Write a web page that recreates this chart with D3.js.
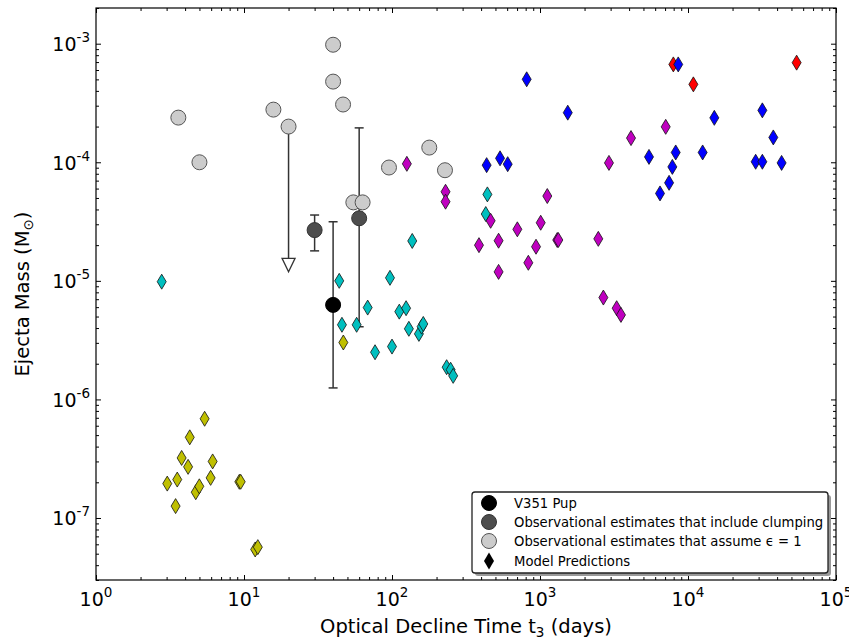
<!DOCTYPE html>
<html>
<head>
<meta charset="utf-8">
<script src="https://cdn.jsdelivr.net/npm/d3@7"></script>
<style>
  body { margin: 0; background: #fff; }
  svg { display: block; }
  text { font-family: "DejaVu Sans", "Liberation Sans", sans-serif; fill: #000; }
</style>
</head>
<body>
<svg id="chart" width="849" height="642"></svg>
<script>
// Nova ejecta mass against optical decline time t3.
// Each point is [t3 (days), ejecta mass (solar masses)].

// Model predictions, grouped by colour
const yellowModels = [
  [3.03, 1.95e-7], [3.54, 2.11e-7], [3.45, 1.26e-7], [3.79, 3.21e-7],
  [4.19, 2.70e-7], [4.30, 4.79e-7], [4.72, 1.65e-7], [4.99, 1.85e-7],
  [5.42, 6.87e-7], [5.95, 2.18e-7], [6.14, 3.00e-7], [9.3, 2.02e-7],
  [9.5, 2.02e-7], [11.9, 5.43e-8], [12.4, 5.68e-8], [46.9, 3.02e-6]
];
const cyanModels = [
  [2.78, 9.84e-6], [44, 1.0e-5], [45.9, 4.26e-6], [57.7, 4.26e-6],
  [68.5, 5.95e-6], [76.8, 2.5e-6], [96.9, 1.06e-5], [100, 2.79e-6],
  [112, 5.5e-6], [124.5, 5.88e-6], [130, 3.94e-6], [137, 2.17e-5],
  [152, 3.57e-6], [158.6, 4.11e-6], [162.7, 4.33e-6], [234, 1.87e-6],
  [249, 1.78e-6], [259, 1.58e-6], [441, 5.36e-5], [430, 3.66e-5]
];
const magentaModels = [
  [126, 9.7e-5], [230, 5.64e-5], [230, 4.65e-5], [387, 2.0e-5],
  [464, 3.21e-5], [525, 2.18e-5], [525, 1.19e-5], [703, 2.72e-5],
  [834, 1.42e-5], [940, 1.94e-5], [1011, 3.09e-5], [1120, 5.19e-5],
  [1308, 2.21e-5], [1330, 2.21e-5], [2477, 2.26e-5], [2924, 9.88e-5],
  [4120, 1.60e-4], [2680, 7.23e-6], [3296, 5.88e-6], [3524, 5.16e-6],
  [7070, 1.99e-4]
];
const redModels = [
  [7960, 6.69e-4], [10870, 4.54e-4], [54200, 6.92e-4]
];
const blueModels = [
  [436, 9.46e-5], [537, 1.08e-4], [605, 9.64e-5], [813, 5.01e-4],
  [1540, 2.62e-4], [5450, 1.11e-4], [6470, 5.46e-5], [7450, 6.71e-5],
  [7840, 9.14e-5], [8260, 1.21e-4], [8590, 6.69e-4], [12560, 1.21e-4],
  [15060, 2.37e-4], [28650, 1.01e-4], [31800, 1.01e-4], [31800, 2.74e-4],
  [37700, 1.62e-4], [42900, 9.88e-5]
];

// Observational estimates assuming a filling factor of 1
const unityFillingObs = [
  [3.6, 2.38e-4], [5, 1.0e-4], [15.8, 2.78e-4], [20, 2.0e-4],
  [40, 9.8e-4], [40, 4.79e-4], [46.7, 3.07e-4], [54.8, 4.59e-5],
  [63.3, 4.59e-5], [95.4, 9.03e-5], [178.6, 1.33e-4], [228, 8.57e-5]
];
// Observational estimates that include clumping: [t3, mass, low, high]
const clumpingObs = [
  [30, 2.68e-5, 1.79e-5, 3.59e-5],
  [60, 3.37e-5, 4.1e-6, 1.95e-4]
];
// V351 Pup: [t3, mass, low, high]
const v351Pup = [[40, 6.27e-6, 1.25e-6, 3.15e-5]];
// Upper limit drawn as a downward arrow: [t3, from, to]
const upperLimits = [[20, 2.0e-4, 1.55e-5]];

// Axis ticks
const xMajorTicks = [1, 10, 100, 1e3, 1e4, 1e5];
const xTickExponents = ["0", "1", "2", "3", "4", "5"];
const yMajorTicks = [1e-7, 1e-6, 1e-5, 1e-4, 1e-3];
const yTickExponents = ["-7", "-6", "-5", "-4", "-3"];

const legendLabels = [
  "V351 Pup",
  "Observational estimates that include clumping",
  "Observational estimates that assume \u03F5 = 1",
  "Model Predictions"
];

const svg = d3.select("#chart");
const pLeft = 96, pRight = 836, pTop = 8, pBottom = 580;

const x = d3.scaleLog().domain([1, 1e5]).range([pLeft, pRight]);
const y = d3.scaleLog().domain([3e-8, 2e-3]).range([pBottom, pTop]);

// Minor ticks: 2..9 within each decade, clipped to the domain
function minorTicks(scale) {
  const [a, b] = scale.domain();
  const out = [];
  for (let e = Math.floor(Math.log10(a)); e <= Math.ceil(Math.log10(b)); e++) {
    for (let k = 2; k <= 9; k++) {
      const v = k * Math.pow(10, e);
      if (v >= a * 0.9999 && v <= b * 1.0001) out.push(v);
    }
  }
  return out;
}
const xMinor = minorTicks(x);
const yMinor = minorTicks(y);

const MAJ = 5, MIN = 3;
const axesG = svg.append("g");

function drawAxis(gen, transform) {
  const g = axesG.append("g").attr("transform", transform).call(gen);
  g.select(".domain").remove();
  g.selectAll("line").attr("stroke", "#000").attr("stroke-width", 1);
  g.selectAll("text").remove();
  return g;
}
// Ticks point into the plot on all four sides
drawAxis(d3.axisBottom(x).tickValues(xMajorTicks).tickSize(-MAJ), `translate(0,${pBottom})`);
drawAxis(d3.axisBottom(x).tickValues(xMinor).tickSize(-MIN), `translate(0,${pBottom})`);
drawAxis(d3.axisTop(x).tickValues(xMajorTicks).tickSize(-MAJ), `translate(0,${pTop})`);
drawAxis(d3.axisTop(x).tickValues(xMinor).tickSize(-MIN), `translate(0,${pTop})`);
drawAxis(d3.axisLeft(y).tickValues(yMajorTicks).tickSize(-MAJ), `translate(${pLeft},0)`);
drawAxis(d3.axisLeft(y).tickValues(yMinor).tickSize(-MIN), `translate(${pLeft},0)`);
drawAxis(d3.axisRight(y).tickValues(yMajorTicks).tickSize(-MAJ), `translate(${pRight},0)`);
drawAxis(d3.axisRight(y).tickValues(yMinor).tickSize(-MIN), `translate(${pRight},0)`);

// Tick labels as powers of ten
const TICK_FS = 19, EXP_FS = 13.5;
const xl = svg.append("g").selectAll("text").data(xMajorTicks).join("text")
  .attr("x", d => x(d)).attr("y", 606)
  .attr("text-anchor", "middle").attr("font-size", TICK_FS);
xl.append("tspan").text("10");
xl.append("tspan").attr("dy", -9).attr("font-size", EXP_FS).text((d, i) => xTickExponents[i]);

const yl = svg.append("g").selectAll("text").data(yMajorTicks).join("text")
  .attr("x", 90).attr("y", d => y(d) + 7.4)
  .attr("text-anchor", "end").attr("font-size", TICK_FS);
yl.append("tspan").text("10");
yl.append("tspan").attr("dy", -9).attr("font-size", EXP_FS).text((d, i) => yTickExponents[i]);

// Axis titles
const TITLE_FS = 19.5, SUB_FS = 13.5;
const xt = svg.append("text").attr("x", (pLeft + pRight) / 2).attr("y", 633)
  .attr("text-anchor", "middle").attr("font-size", TITLE_FS);
xt.append("tspan").text("Optical Decline Time t");
xt.append("tspan").attr("dy", 4).attr("font-size", SUB_FS).text("3");
xt.append("tspan").attr("dy", -4).text(" (days)");

const yt = svg.append("text")
  .attr("transform", `translate(29,${(pTop + pBottom) / 2}) rotate(-90)`)
  .attr("text-anchor", "middle").attr("font-size", TITLE_FS);
yt.append("tspan").text("Ejecta Mass (M");
yt.append("tspan").attr("dy", 4).attr("font-size", SUB_FS).text("\u2299");
yt.append("tspan").attr("dy", -4).text(")");

// Plot contents
const plot = svg.append("g");
const errColor = "#333";
const capHalf = 4.5;

function errorBars(data) {
  const g = plot.append("g").attr("stroke", errColor).attr("stroke-width", 1.5);
  data.forEach(d => {
    g.append("line").attr("x1", x(d[0])).attr("x2", x(d[0]))
      .attr("y1", y(d[2])).attr("y2", y(d[3]));
    [d[2], d[3]].forEach(v => g.append("line")
      .attr("x1", x(d[0]) - capHalf).attr("x2", x(d[0]) + capHalf)
      .attr("y1", y(v)).attr("y2", y(v)));
  });
}
errorBars(clumpingObs);
errorBars(v351Pup);

// Upper-limit arrow
upperLimits.forEach(d => {
  const cx = x(d[0]);
  plot.append("line").attr("x1", cx).attr("x2", cx)
    .attr("y1", y(d[1])).attr("y2", y(d[2]))
    .attr("stroke", errColor).attr("stroke-width", 1.5);
  const by = y(d[2]);
  plot.append("path")
    .attr("d", `M${cx - 6.5},${by} L${cx + 6.5},${by} L${cx},${by + 13.5} Z`)
    .attr("fill", "#fff").attr("stroke", errColor).attr("stroke-width", 1.3);
});

const R = 7.5;
function circles(data, fill, stroke) {
  plot.append("g").selectAll("circle").data(data).join("circle")
    .attr("cx", d => x(d[0])).attr("cy", d => y(d[1])).attr("r", R)
    .attr("fill", fill).attr("stroke", stroke).attr("stroke-width", 1);
}
circles(unityFillingObs, "#cccccc", "#555");
circles(clumpingObs, "#4d4d4d", "#333");
circles(v351Pup, "#000", "#000");

const DW = 4.5, DH = 7.5;
const diamondPath = `M0,${-DH} L${DW},0 L0,${DH} L${-DW},0 Z`;
function diamonds(data, fill) {
  plot.append("g").selectAll("path").data(data).join("path")
    .attr("d", diamondPath)
    .attr("transform", d => `translate(${x(d[0])},${y(d[1])})`)
    .attr("fill", fill).attr("stroke", "#111").attr("stroke-width", 0.8);
}
diamonds(yellowModels, "#bfbf00");
diamonds(cyanModels, "#00bfbf");
diamonds(magentaModels, "#bf00bf");
diamonds(redModels, "#ff0000");
diamonds(blueModels, "#0000ff");

// Frame
svg.append("rect").attr("x", pLeft).attr("y", pTop)
  .attr("width", pRight - pLeft).attr("height", pBottom - pTop)
  .attr("fill", "none").attr("stroke", "#000").attr("stroke-width", 1.2);

// Legend
const lg = svg.append("g");
const lx = 472, ly = 492, lw = 356, lh = 81;
lg.append("rect").attr("x", lx + 3).attr("y", ly + 3).attr("width", lw).attr("height", lh)
  .attr("rx", 3).attr("fill", "#999");
lg.append("rect").attr("x", lx).attr("y", ly).attr("width", lw).attr("height", lh)
  .attr("rx", 3).attr("fill", "#fff").attr("stroke", "#222").attr("stroke-width", 1.3);
const rowY = [503, 522, 541, 561];
const mx = 489;
lg.append("circle").attr("cx", mx).attr("cy", rowY[0]).attr("r", R).attr("fill", "#000").attr("stroke", "#000");
lg.append("circle").attr("cx", mx).attr("cy", rowY[1]).attr("r", R).attr("fill", "#4d4d4d").attr("stroke", "#333");
lg.append("circle").attr("cx", mx).attr("cy", rowY[2]).attr("r", R).attr("fill", "#cccccc").attr("stroke", "#555");
lg.append("path").attr("d", `M0,-8.5 L5,0 L0,8.5 L-5,0 Z`)
  .attr("transform", `translate(${mx},${rowY[3]})`).attr("fill", "#000");
lg.selectAll("text.lab").data(legendLabels).join("text").attr("class", "lab")
  .attr("x", 514).attr("y", (d, i) => rowY[i] + 4.7)
  .attr("font-size", 13.2).text(d => d);
</script>
</body>
</html>
